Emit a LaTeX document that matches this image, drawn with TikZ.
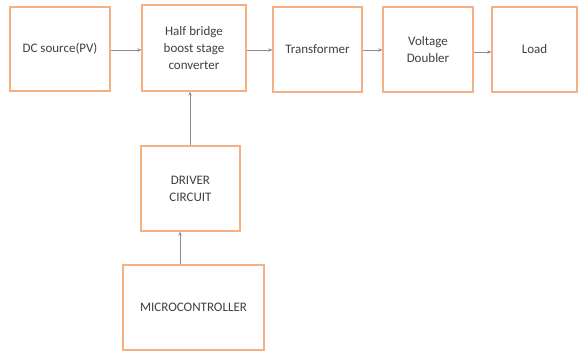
\documentclass[tikz,border=0pt]{standalone}
\usepackage{fontspec}
\setmainfont{Carlito}
\usetikzlibrary{arrows.meta}
\definecolor{boxorange}{HTML}{F4B183}
\definecolor{arrowgray}{HTML}{8C8C8C}
\definecolor{txt}{HTML}{404040}
\begin{document}
\begin{tikzpicture}[x=1pt,y=-1pt,
  blk/.style={draw=boxorange, line width=1.3pt, fill=white, text=txt,
    align=center, font=\fontsize{13}{17}\selectfont, inner sep=0pt},
  conn/.style={draw=arrowgray, line width=0.8pt, -{Stealth[length=4pt,width=3.5pt]}}]
\useasboundingbox (0,0) rectangle (579,354);
\node[blk, minimum width=100pt, minimum height=84pt] (dc) at (60,49) {DC source(PV)};
\node[blk, minimum width=104pt, minimum height=86pt] (hb) at (194,48) {Half bridge\\boost stage\\converter};
\node[blk, minimum width=89pt, minimum height=85pt] (tr) at (317.5,49.5) {Transformer};
\node[blk, minimum width=90pt, minimum height=85pt] (vd) at (428,49.5) {Voltage\\Doubler};
\node[blk, minimum width=85pt, minimum height=85pt] (ld) at (534.5,49.5) {Load};
\node[blk, minimum width=99pt, minimum height=85pt] (dr) at (190.5,188.5) {DRIVER\\CIRCUIT};
\node[blk, minimum width=141pt, minimum height=85pt] (mc) at (193.5,307.5) {MICROCONTROLLER};
\draw[conn] (dc.east |- 0,50) -- (hb.west |- 0,50);
\draw[conn] (hb.east |- 0,50) -- (tr.west |- 0,50);
\draw[conn] (tr.east |- 0,50) -- (vd.west |- 0,50);
\draw[conn] (vd.east |- 0,52) -- (ld.west |- 0,52);
\draw[conn] (dr.north -| 190,0) -- (hb.south -| 190,0);
\draw[conn] (mc.north -| 180,0) -- (dr.south -| 180,0);
\end{tikzpicture}
\end{document}
